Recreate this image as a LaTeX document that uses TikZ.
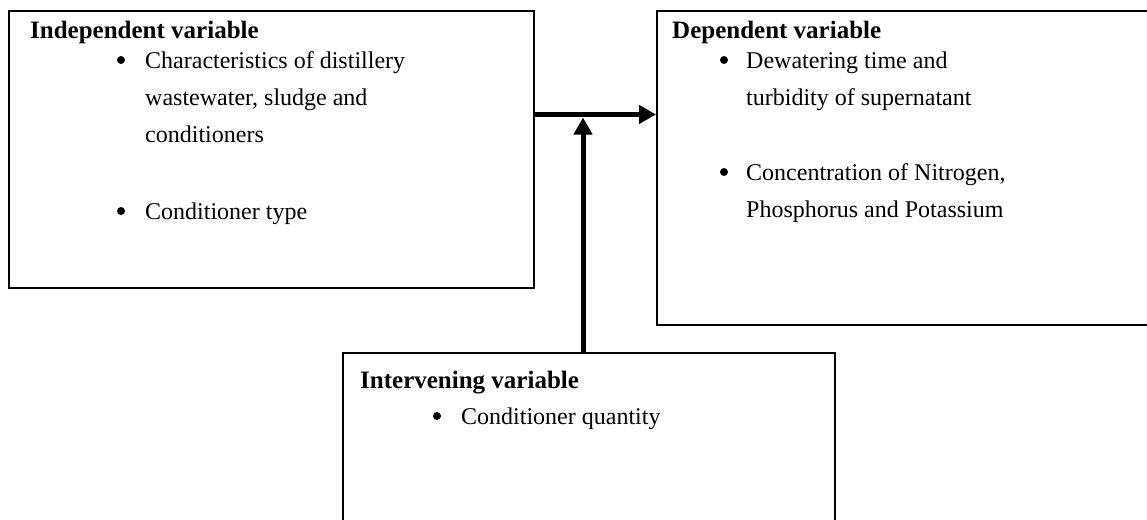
\documentclass[tikz,border=0pt]{standalone}
\usepackage{fontspec}
\setmainfont{Liberation Serif}
\usetikzlibrary{arrows.meta}
\begin{document}
\begin{tikzpicture}[x=1pt,y=-1pt,
  box/.style={draw=black,line width=2pt,inner sep=0pt,anchor=north west},
  head/.style={anchor=base west,inner sep=0pt,font=\fontsize{25}{29}\selectfont\bfseries},
  body/.style={anchor=base west,inner sep=0pt,font=\fontsize{24}{28}\selectfont},
  bul/.style={circle,fill=black,inner sep=0pt,minimum size=8pt},
  arr/.style={line width=5pt,-{Triangle[length=17pt,width=18pt]}}]
\useasboundingbox (0,0) rectangle (1147,519);
\clip (0,0) rectangle (1147,519);
\fill[white] (0,0) rectangle (1147,519);
% boxes
\node[box,minimum width=525pt,minimum height=277pt] (ind) at (8,10) {};
\node[box,minimum width=520pt,minimum height=314pt] (dep) at (656,10) {};
\node[box,minimum width=492pt,minimum height=200pt] (int) at (342,352) {};
% independent
\node[head] (indh) at (30,38) {Independent variable};
\node[bul] (ib1) at (121,60) {};
\node[body] (it1) at (145,68) {Characteristics of distillery};
\node[body] (it2) at (145,105) {wastewater, sludge and};
\node[body] (it3) at (145,142) {conditioners};
\node[bul] (ib2) at (121,211) {};
\node[body] (it4) at (145,219) {Conditioner type};
% dependent
\node[head] (deph) at (672,38) {Dependent variable};
\node[bul] (db1) at (724,60) {};
\node[body] (dt1) at (746,68) {Dewatering time and};
\node[body] (dt2) at (746,105) {turbidity of supernatant};
\node[bul] (db2) at (724,172) {};
\node[body] (dt3) at (746,180) {Concentration of Nitrogen,};
\node[body] (dt4) at (746,217) {Phosphorus and Potassium};
% intervening
\node[head] (inth) at (360,388) {Intervening variable};
\node[bul] (nb1) at (437,416) {};
\node[body] (nt1) at (461,424) {Conditioner quantity};
% connectors
\coordinate (hs) at ([yshift=-104.5pt]ind.north east);
\coordinate (he) at ([yshift=-104.5pt]dep.north west);
\draw[arr] (hs) -- (he);
\coordinate (vs) at ([xshift=241pt]int.north west);
\coordinate (ve) at (vs |- 0,117.5);
\draw[arr] (vs) -- (ve);
\end{tikzpicture}
\end{document}
